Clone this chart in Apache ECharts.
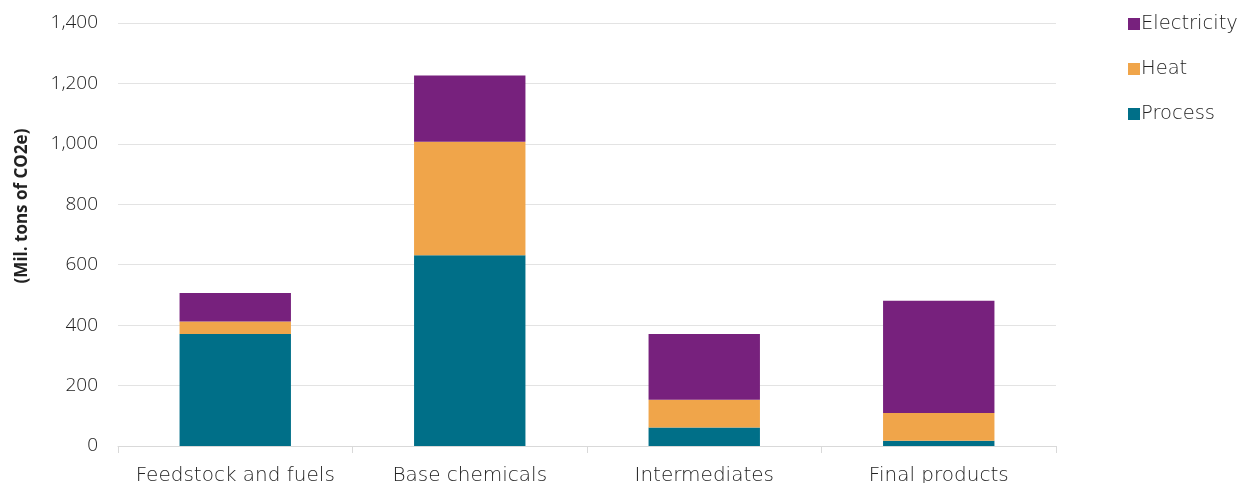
<!DOCTYPE html>
<html><head><meta charset="utf-8">
<script src="https://cdn.jsdelivr.net/npm/echarts@6/dist/echarts.min.js"></script>
<style>html,body{margin:0;padding:0;background:#fff}#c{width:1241px;height:483px}</style>
</head><body><div id="c"></div>
<script>
const categories = ['Feedstock and fuels', 'Base chemicals', 'Intermediates', 'Final products'];
const processVals = [371, 631, 61, 17];
const heatVals = [41, 376, 92, 92];
const electricityVals = [94, 219, 218, 372];
const yTicks = [0, 200, 400, 600, 800, 1000, 1200, 1400];

const chart = echarts.init(document.getElementById('c'));
const font = 'DejaVu Sans';
chart.setOption({
  animation: false,
  textStyle: { fontFamily: font },
  grid: { left: 118, right: 185, top: 23, bottom: 37, containLabel: false, outerBoundsMode: 'none' },
  legend: {
    data: ['Electricity', 'Heat', 'Process'],
    orient: 'vertical', left: 1123, top: 9, itemGap: 25,
    itemWidth: 12, itemHeight: 12, icon: 'rect',
    textStyle: { fontSize: 19.5, color: '#222', fontFamily: font, fontWeight: 300, padding: [0, 0, 0, -4] }
  },
  graphic: [{
    type: 'text',
    rotation: Math.PI / 2,
    x: 22, y: 206,
    style: { text: '(Mil. tons of CO2e)', font: 'bold 17px "Open Sans"', fill: '#222', align: 'center', verticalAlign: 'middle' }
  }],
  xAxis: {
    type: 'category', data: categories,
    axisLine: { lineStyle: { color: '#d9d9d9', width: 1 } },
    axisTick: { show: true, length: 7, lineStyle: { color: '#d9d9d9' } },
    axisLabel: { fontSize: 20, color: '#222', fontWeight: 300, margin: 20, interval: 0 }
  },
  yAxis: {
    type: 'value', min: yTicks[0], max: yTicks[yTicks.length - 1], interval: 200,
    axisLine: { show: false }, axisTick: { show: false },
    splitLine: { lineStyle: { color: '#e3e3e3', width: 1 } },
    axisLabel: { fontSize: 19, color: '#222', fontWeight: 300, margin: 20, fontFamily: 'Open Sans',
      formatter: v => v.toLocaleString('en-US') }
  },
  series: [
    { name: 'Process', type: 'bar', stack: 't', data: processVals, barWidth: '47.5%', itemStyle: { color: '#006F88' } },
    { name: 'Heat', type: 'bar', stack: 't', data: heatVals, itemStyle: { color: '#F0A54A' } },
    { name: 'Electricity', type: 'bar', stack: 't', data: electricityVals, itemStyle: { color: '#77217D' } }
  ]
});
</script></body></html>
